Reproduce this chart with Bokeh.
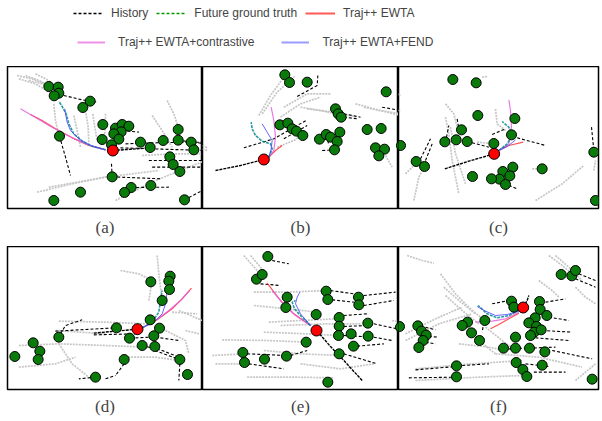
from bokeh.plotting import figure
from bokeh.layouts import column, row
from bokeh.models import Range1d, Legend, LegendItem, Title
from bokeh.embed import file_html
from bokeh.resources import INLINE

# ---------------- data (scene coordinates, y grows downward) ----------------
LEGEND_LABELS = ["History", "Future ground truth", "Traj++ EWTA",
                 "Traj++ EWTA+contrastive", "Traj++ EWTA+FEND"]
PANEL_LABELS = ["(a)", "(b)", "(c)", "(d)", "(e)", "(f)"]

# ---- panel (a)
A_AGENT_X = [130, 158, 160, 146, 254, 232, 292, 330, 350, 370, 347, 325, 340, 290, 318, 405, 434,
             473, 518, 518, 557, 565, 493, 503, 523, 162, 320, 377, 357, 436, 225, 145, 537]
A_AGENT_Y = [78, 80, 98, 106, 122, 141, 192, 203, 192, 197, 214, 220, 236, 237, 253, 245, 261,
             240, 207, 239, 245, 268, 289, 312, 333, 227, 349, 381, 396, 375, 395, 420, 418]
A_TARGET = (322, 270)
A_TARGET_HIST = [(322, 270), (380, 266), (440, 262)]
A_GT = [(300, 268), (262, 258), (230, 242), (205, 220), (190, 190), (182, 160), (170, 138), (160, 122)]
A_FEND = [(300, 268), (255, 255), (220, 235), (195, 210), (185, 185), (180, 160), (178, 145)]
A_EWTA = [(300, 268), (250, 255), (200, 232), (150, 205), (110, 180), (75, 162)]
A_CONTR = [(300, 268), (240, 250), (180, 222), (130, 195), (85, 168), (45, 145)]
A_HIST = [[(162, 227), (180, 290), (195, 345)], [(175, 105), (230, 118), (275, 125)],
          [(350, 210), (400, 215)], [(360, 250), (480, 246), (600, 245)],
          [(345, 262), (470, 266), (600, 270)], [(430, 300), (600, 300)], [(440, 320), (600, 320)],
          [(320, 349), (470, 355)], [(377, 381), (490, 380)], [(537, 418), (600, 385)],
          [(318, 310), (320, 349)], [(518, 239), (600, 250)]]
A_BG = [[(35, 45), (80, 55), (130, 75)], [(60, 45), (100, 60), (140, 78)], [(70, 60), (110, 70), (150, 95)],
        [(90, 40), (130, 60), (155, 80)], [(40, 55), (90, 70), (140, 100)],
        [(145, 130), (150, 180), (160, 225)], [(205, 165), (215, 210), (225, 260)],
        [(240, 150), (248, 200), (250, 250)], [(262, 160), (268, 200), (275, 240)],
        [(300, 160), (300, 200), (295, 235)], [(440, 165), (470, 210), (500, 260)],
        [(485, 120), (505, 160), (520, 205)], [(95, 395), (200, 370), (320, 345)],
        [(130, 380), (300, 350), (460, 330)], [(330, 420), (450, 360), (600, 300)],
        [(410, 285), (500, 280), (600, 280)]]

# ---- panel (b)
B_AGENT_X = [253, 267, 320, 557, 405, 413, 422, 238, 262, 275, 288, 307, 357, 377, 390, 418, 410,
             402, 500, 542, 525, 552, 535, 603]
B_AGENT_Y = [43, 66, 65, 94, 145, 160, 170, 193, 188, 205, 212, 225, 236, 222, 230, 215, 243,
             268, 207, 204, 262, 266, 286, 255]
B_TARGET = (190, 297)
B_TARGET_HIST = [(45, 330), (120, 315), (190, 297)]
B_GT = [(205, 290), (215, 265), (210, 250), (185, 242), (165, 225), (155, 205), (152, 185)]
B_FEND = [(205, 290), (212, 265), (215, 240), (200, 215), (185, 190)]
B_EWTA = [(205, 290), (225, 270), (245, 255)]
B_CONTR = [(205, 290), (220, 270), (225, 230), (220, 180), (212, 140)]
B_HIST = [[(130, 262), (220, 235), (320, 178)], [(250, 235), (320, 195)],
          [(290, 108), (350, 75), (352, 45)], [(430, 160), (480, 170)], [(430, 170), (470, 175)],
          [(545, 140), (600, 150)], [(365, 270), (400, 268)], [(382, 240), (385, 255)]]
B_BG = [[(175, 165), (210, 105), (250, 50)], [(185, 160), (230, 95), (285, 45)],
        [(250, 140), (320, 100), (390, 100)], [(240, 170), (300, 130), (360, 110)],
        [(300, 140), (360, 150), (430, 165)], [(320, 145), (400, 155), (470, 170)],
        [(465, 130), (540, 150), (600, 160)], [(490, 140), (560, 155), (600, 165)],
        [(555, 285), (575, 320)], [(230, 260), (280, 240), (320, 215)],
        [(6, 255), (20, 262)], [(6, 265), (20, 270)]]

# ---- panel (c)
C_AGENT_X = [172, 242, 247, 358, 198, 182, 148, 215, 295, 348, 62, 87, 440, 352, 322, 343, 312,
             288, 330, 231, 595, 15, 600]
C_AGENT_Y = [57, 67, 165, 174, 208, 238, 244, 243, 249, 223, 303, 318, 325, 320, 333, 346, 356,
             355, 372, 348, 275, 255, 420]
C_TARGET = (296, 280)
C_TARGET_HIST = [(148, 325), (220, 302), (296, 280)]
C_GT = [(310, 270), (335, 250), (350, 225), (340, 200), (320, 183)]
C_FEND = [(310, 270), (335, 258), (352, 245), (360, 238)]
C_EWTA = [(310, 270), (340, 255), (383, 245)]
C_CONTR = [(310, 270), (340, 250), (348, 200), (345, 150), (340, 118)]
C_HIST = [[(365, 232), (450, 255)], [(290, 222), (330, 205)], [(150, 245), (160, 195)],
          [(185, 175), (190, 205)], [(75, 295), (105, 235)], [(90, 300), (110, 250)],
          [(588, 200), (595, 270)], [(340, 375), (365, 385)], [(215, 243), (280, 260)]]
C_BG = [[(150, 130), (175, 160), (185, 200)], [(150, 170), (160, 220), (170, 300), (190, 400)],
        [(165, 200), (180, 280), (210, 370)], [(300, 145), (305, 190), (330, 210)],
        [(30, 340), (60, 310)], [(55, 420), (70, 350), (85, 320)], [(260, 50), (275, 48)],
        [(420, 420), (500, 370), (565, 315)], [(410, 325), (440, 325)], [(5, 100), (15, 105)],
        [(5, 150), (15, 150)], [(245, 245), (295, 250)], [(595, 330), (600, 300)]]

# ---- panel (d)
D_AGENT_X = [436, 494, 490, 492, 470, 434, 333, 462, 372, 445, 410, 448, 160, 83, 103, 98, 28,
             356, 523, 546, 270]
D_AGENT_Y = [124, 107, 122, 147, 180, 238, 262, 263, 293, 286, 315, 318, 290, 307, 332, 357, 348,
             357, 357, 402, 410]
D_TARGET = (396, 266)
D_TARGET_HIST = [(265, 278), (330, 272), (396, 266)]
D_GT = [(410, 262), (440, 245), (460, 215), (465, 180), (470, 150)]
D_FEND = [(410, 262), (445, 245), (470, 220), (480, 190), (485, 152)]
D_EWTA = [(410, 262), (455, 238), (500, 205), (530, 175), (558, 143)]
D_CONTR = [(410, 262), (450, 240), (490, 210), (525, 180), (552, 150)]
D_HIST = [[(165, 280), (180, 255), (230, 238)], [(150, 272), (330, 262)], [(265, 283), (390, 280)],
          [(375, 293), (430, 290)], [(450, 290), (520, 300)], [(410, 315), (470, 330), (520, 350)],
          [(448, 330), (530, 360)], [(523, 370), (520, 420)], [(356, 370), (330, 405)],
          [(270, 410), (220, 415)], [(300, 415), (330, 405)]]
D_BG = [[(345, 90), (400, 100), (440, 120)], [(455, 45), (460, 100), (470, 180)],
        [(160, 242), (300, 245), (420, 250)], [(150, 270), (300, 280)],
        [(40, 315), (160, 310), (300, 315), (420, 320)], [(40, 380), (150, 370), (210, 350)],
        [(160, 310), (200, 370), (250, 410)], [(350, 350), (450, 350), (520, 360)],
        [(480, 270), (540, 300), (550, 340)], [(500, 215), (575, 220)], [(520, 210), (590, 240)],
        [(540, 270), (580, 280)], [(430, 180), (440, 120)]]

# ---- panel (e)
E_AGENT_X = [202, 168, 185, 260, 256, 377, 382, 474, 475, 347, 416, 416, 414, 452, 502, 503, 459,
             317, 416, 258, 192, 127, 132, 600, 382]
E_AGENT_Y = [48, 116, 102, 170, 201, 152, 177, 170, 193, 222, 231, 257, 285, 280, 248, 287, 317,
             305, 340, 347, 356, 336, 366, 260, 425]
E_TARGET = (348, 270)
E_TARGET_HIST = [(485, 420), (430, 360), (390, 318), (348, 270)]
E_GT = [(330, 255), (300, 225), (282, 205), (275, 185), (285, 180)]
E_FEND = [(330, 255), (300, 220), (285, 190), (290, 170), (298, 155)]
E_EWTA = [(330, 255), (280, 220), (240, 180), (200, 128)]
E_CONTR = [(330, 255), (285, 225), (250, 192), (215, 150)]
E_HIST = [[(215, 60), (265, 70)], [(180, 130), (240, 135)], [(390, 150), (460, 160)],
          [(395, 178), (460, 185)], [(490, 165), (585, 155)], [(490, 195), (580, 180)],
          [(430, 225), (500, 220)], [(430, 258), (500, 255)], [(520, 250), (590, 265)],
          [(430, 285), (520, 290)], [(520, 290), (575, 300)], [(470, 317), (550, 310)],
          [(430, 340), (530, 370)], [(140, 340), (260, 345)], [(145, 370), (250, 385)],
          [(270, 345), (320, 330)]]
E_BG = [[(130, 45), (170, 90), (185, 110)], [(150, 45), (180, 80), (195, 100)],
        [(160, 155), (260, 155), (380, 150)], [(160, 195), (260, 205), (350, 215)],
        [(205, 245), (300, 240), (410, 235)], [(190, 275), (320, 280), (410, 285)],
        [(240, 255), (380, 250), (480, 250)], [(65, 298), (200, 300), (320, 305)],
        [(35, 345), (130, 340)], [(45, 370), (130, 370)], [(190, 330), (300, 340), (420, 345)],
        [(140, 410), (280, 410), (400, 412)], [(300, 370), (420, 385), (520, 370)],
        [(575, 240), (600, 245)]]

# ---- panel (f)
F_AGENT_X = [497, 529, 540, 348, 355, 432, 434, 454, 419, 400, 423, 416, 437, 405, 268, 216, 200,
             228, 252, 360, 324, 360, 402, 448, 440, 362, 382, 394, 183, 183, 67, 78, 92, 83, 70,
             12, 590]
F_AGENT_Y = [102, 106, 90, 182, 200, 183, 207, 225, 232, 247, 258, 275, 268, 285, 240, 245, 255,
             277, 300, 290, 323, 323, 323, 334, 374, 366, 387, 408, 376, 409, 256, 272, 284, 300, 321,
             258, 416]
F_TARGET = (383, 201)
F_TARGET_HIST = [(383, 201), (395, 180), (400, 165)]
F_GT = [(370, 210), (340, 225), (305, 232), (275, 220), (248, 195)]
F_FEND = [(370, 212), (335, 222), (300, 225), (270, 212), (245, 198)]
F_EWTA = [(370, 218), (340, 235), (310, 252), (285, 265)]
F_CONTR = [(370, 215), (330, 235), (290, 242), (240, 245)]
F_HIST = [[(290, 190), (340, 180)], [(450, 185), (510, 175)], [(460, 230), (520, 240)],
          [(440, 270), (530, 275)], [(420, 292), (520, 300)], [(470, 330), (590, 355)],
          [(340, 325), (480, 320)], [(90, 260), (120, 268)], [(100, 288), (130, 290)],
          [(90, 305), (120, 310)], [(60, 388), (180, 378)], [(40, 412), (180, 410)],
          [(200, 375), (280, 370)], [(390, 370), (460, 378)], [(415, 395), (510, 395)],
          [(540, 115), (600, 140)], [(550, 100), (600, 120)], [(265, 245), (260, 275)]]
F_BG = [[(35, 45), (80, 60), (115, 68)], [(135, 100), (180, 160), (230, 210), (280, 250)],
        [(145, 140), (190, 180), (240, 220)], [(150, 165), (200, 210), (250, 250)],
        [(460, 45), (500, 75), (530, 100)], [(480, 45), (520, 80), (560, 120)],
        [(540, 140), (570, 170), (600, 190)], [(30, 300), (130, 250), (230, 220)],
        [(30, 280), (120, 235), (200, 200)], [(190, 310), (280, 320), (330, 330)],
        [(270, 260), (320, 300), (360, 330)], [(430, 120), (470, 150), (490, 170)],
        [(60, 385), (230, 370), (380, 360)], [(60, 420), (250, 410), (380, 405)],
        [(300, 340), (430, 350), (560, 380)], [(540, 420), (600, 370)],
        [(205, 250), (250, 300), (300, 340)]]

# ---------------- styling ----------------
GREY = "#c6c6c6"
AGENT_GREEN = "#0a7a0a"
GT_COLOR = "#008b8b"
EWTA_COLOR = "#ff3030"
CONTR_COLOR = "#e060e0"
FEND_COLOR = "#4a4aff"

PANELS = [
    (A_AGENT_X, A_AGENT_Y, A_TARGET, A_TARGET_HIST, A_GT, A_FEND, A_EWTA, A_CONTR, A_HIST, A_BG),
    (B_AGENT_X, B_AGENT_Y, B_TARGET, B_TARGET_HIST, B_GT, B_FEND, B_EWTA, B_CONTR, B_HIST, B_BG),
    (C_AGENT_X, C_AGENT_Y, C_TARGET, C_TARGET_HIST, C_GT, C_FEND, C_EWTA, C_CONTR, C_HIST, C_BG),
    (D_AGENT_X, D_AGENT_Y, D_TARGET, D_TARGET_HIST, D_GT, D_FEND, D_EWTA, D_CONTR, D_HIST, D_BG),
    (E_AGENT_X, E_AGENT_Y, E_TARGET, E_TARGET_HIST, E_GT, E_FEND, E_EWTA, E_CONTR, E_HIST, E_BG),
    (F_AGENT_X, F_AGENT_Y, F_TARGET, F_TARGET_HIST, F_GT, F_FEND, F_EWTA, F_CONTR, F_HIST, F_BG),
]
VIEW_X = [(6, 591), (6, 594), (9, 609), (6, 591), (6, 594), (9, 609)]
VIEW_Y = [(444, 18)] * 3 + [(447, 18)] * 3
WIDTHS = [202, 196, 204] * 2
LEFTS = [7, 0, 0] * 2
RIGHTS = [0, 0, 4] * 2
HEIGHTS = [180] * 3 + [175] * 3
BOTTOMS = [38] * 3 + [32] * 3
STANDOFFS = [14] * 3 + [11] * 3


def xs_of(lines):
    return [[pt[0] for pt in ln] for ln in lines]


def ys_of(lines):
    return [[pt[1] for pt in ln] for ln in lines]


def make_panel(i):
    ax, ay, tgt, thist, gt, fend, ewta, contr, hist, bg = PANELS[i]
    p = figure(width=WIDTHS[i], height=HEIGHTS[i],
               x_range=Range1d(*VIEW_X[i]), y_range=Range1d(*VIEW_Y[i]),
               x_axis_location=None, y_axis_location=None,
               output_backend="svg", toolbar_location=None,
               min_border_left=LEFTS[i], min_border_right=RIGHTS[i], min_border_top=0,
               min_border_bottom=BOTTOMS[i])
    p.grid.visible = False
    p.outline_line_color = "black"
    p.outline_line_width = 1.5
    p.background_fill_color = "white"
    p.border_fill_color = "white"
    # background trajectories
    p.multi_line(xs_of(bg), ys_of(bg), line_color=GREY, line_width=1.7, line_dash="2 1")
    # histories of other agents
    p.multi_line(xs_of(hist), ys_of(hist), line_color="black", line_width=1.1, line_dash="3 2")
    # target history
    p.line([pt[0] for pt in thist], [pt[1] for pt in thist], line_color="black",
           line_width=1.4, line_dash="3 1")
    # predictions
    for pts, col, w, dash in [(ewta, EWTA_COLOR, 1.2, "solid"), (contr, CONTR_COLOR, 1.2, "solid"),
                              (gt, GT_COLOR, 1.6, "3 1"), (fend, FEND_COLOR, 1.0, "solid")]:
        p.line([pt[0] for pt in pts], [pt[1] for pt in pts], line_color=col, line_width=w,
               line_dash=dash, line_alpha=0.85)
    p.scatter(ax, ay, size=10, fill_color=AGENT_GREEN, line_color="black", line_width=1)
    p.scatter([tgt[0]], [tgt[1]], size=11, fill_color="#ff0000", line_color="black", line_width=1)
    p.add_layout(Title(text=PANEL_LABELS[i], align="center", text_font="Liberation Serif",
                       text_font_size="17px", text_font_style="normal",
                       standoff=STANDOFFS[i]), "below")
    return p


panels = [make_panel(i) for i in range(6)]

# ---------------- legend strip ----------------
leg = figure(width=602, height=66, x_range=Range1d(0, 1), y_range=Range1d(0, 1),
             x_axis_location=None, y_axis_location=None, output_backend="svg",
             toolbar_location=None, min_border=0, outline_line_color=None)
leg.grid.visible = False
OFF = [5, 6]  # sample points kept outside the strip's visible range
r_hist = leg.line(OFF, OFF, line_color="black", line_width=1.3, line_dash="3 2")
r_gt = leg.line(OFF, OFF, line_color="#009a00", line_width=1.6, line_dash="3 2")
r_ewta = leg.line(OFF, OFF, line_color=EWTA_COLOR, line_width=2, line_alpha=0.8)
r_contr = leg.line(OFF, OFF, line_color="#ee90e8", line_width=2)
r_fend = leg.line(OFF, OFF, line_color="#9a9aff", line_width=2)

common = dict(orientation="horizontal", glyph_height=14, label_height=14,
              padding=0, margin=0, border_line_color=None, background_fill_alpha=0,
              label_text_font="Liberation Sans", label_text_font_size="12px")
leg1 = Legend(items=[LegendItem(label=LEGEND_LABELS[0], renderers=[r_hist]),
                     LegendItem(label=LEGEND_LABELS[1], renderers=[r_gt]),
                     LegendItem(label=LEGEND_LABELS[2], renderers=[r_ewta])],
              location=(73, 46), glyph_width=30, label_standoff=8, spacing=8, **common)
leg2 = Legend(items=[LegendItem(label=LEGEND_LABELS[3], renderers=[r_contr]),
                     LegendItem(label=LEGEND_LABELS[4], renderers=[r_fend])],
              location=(77, 17), glyph_width=28, label_standoff=13, spacing=27, **common)
leg.add_layout(leg1)
leg.add_layout(leg2)

layout = column(leg, row(*panels[:3]), row(*panels[3:]))
open("out.html", "w").write(file_html(layout, INLINE))
